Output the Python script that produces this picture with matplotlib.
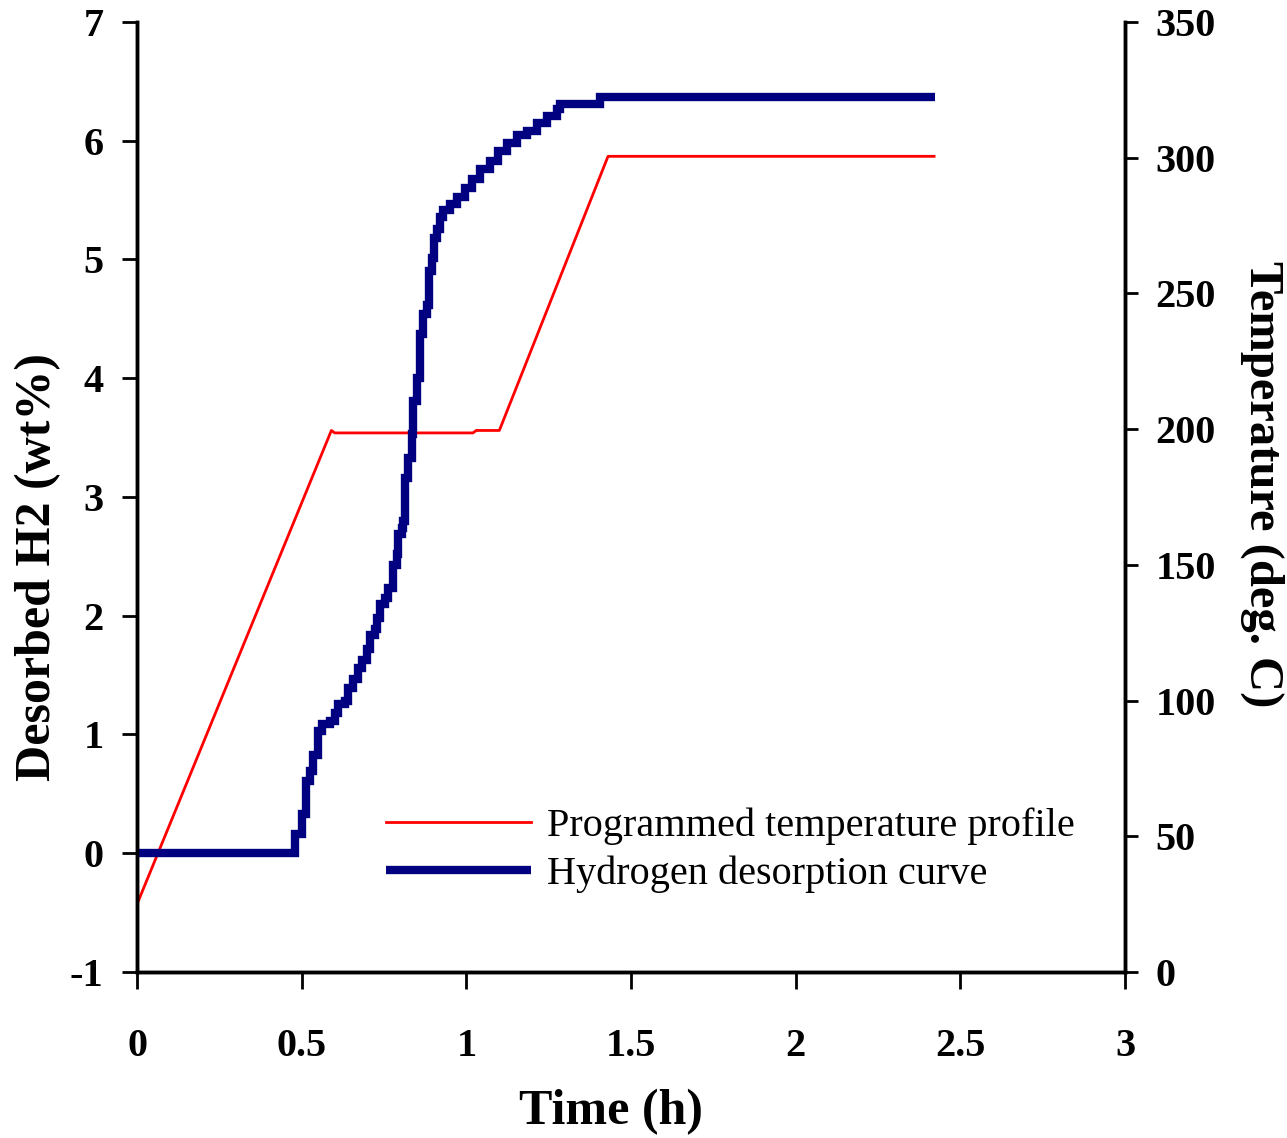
import matplotlib.pyplot as plt

# temperature program (h, deg C)
temp_time = [0.0, 0.59, 0.60, 1.02, 1.03, 1.10, 1.43, 2.42]
temp_vals = [25, 199.5, 198.6, 198.6, 199.5, 199.5, 300.5, 300.5]

# hydrogen desorption (h, wt%)
h2_time = [0.0, 0.465, 0.48, 0.501, 0.513, 0.525, 0.534, 0.55, 0.562, 0.586, 0.601,
           0.61, 0.632, 0.641, 0.656, 0.671, 0.683, 0.698, 0.708, 0.723, 0.729, 0.738,
           0.753, 0.762, 0.777, 0.777, 0.79, 0.793, 0.805, 0.808, 0.814, 0.823, 0.835,
           0.838, 0.85, 0.859, 0.869, 0.88, 0.887, 0.896, 0.902, 0.911, 0.92, 0.929,
           0.95, 0.972, 0.996, 1.017, 1.042, 1.072, 1.096, 1.124, 1.154, 1.184, 1.215,
           1.245, 1.275, 1.285, 1.40, 1.406, 2.423]
h2_vals = [0.0, 0.0, 0.16, 0.33, 0.61, 0.69, 0.83, 1.03, 1.09, 1.11, 1.18,
           1.26, 1.28, 1.39, 1.47, 1.56, 1.63, 1.72, 1.84, 1.89, 1.98, 2.10,
           2.15, 2.23, 2.27, 2.43, 2.52, 2.69, 2.74, 2.80, 3.16, 3.33, 3.53,
           3.81, 4.0, 4.37, 4.54, 4.62, 4.90, 5.01, 5.18, 5.26, 5.36, 5.42,
           5.47, 5.53, 5.60, 5.68, 5.76, 5.83, 5.91, 5.98, 6.05, 6.08, 6.15,
           6.21, 6.27, 6.31, 6.31, 6.37, 6.37]

plt.rcParams['font.family'] = ['Liberation Serif', 'DejaVu Serif']
plt.rcParams['font.weight'] = 'bold'
plt.rcParams['axes.unicode_minus'] = False

fig = plt.figure(figsize=(12.87, 11.38), dpi=100)
ax1 = fig.add_axes([0.1065, 0.1459, 0.7677, 0.8348])
ax2 = ax1.twinx()

l2, = ax2.plot(temp_time, temp_vals, color='#ff0000', lw=2,
               label='Programmed temperature profile')
l1, = ax1.plot(h2_time, h2_vals, color='#000080', lw=6, drawstyle='steps-post',
               solid_capstyle='butt', solid_joinstyle='miter', label='Hydrogen desorption curve')
ax1.set_zorder(ax2.get_zorder() + 1)
ax1.patch.set_visible(False)

ax1.set_xlim(0, 3)
ax1.set_ylim(-1, 7)
ax2.set_ylim(0, 350)
ax1.set_xticks([0, 0.5, 1, 1.5, 2, 2.5, 3])
ax1.set_xticklabels(['0', '0.5', '1', '1.5', '2', '2.5', '3'])
ax1.set_yticks(range(-1, 8))
ax2.set_yticks(range(0, 351, 50))

for ax in (ax1, ax2):
    ax.spines['top'].set_visible(False)
    for s in ax.spines.values():
        s.set_linewidth(2.5)
ax1.tick_params(axis='x', direction='out', length=12, width=2, pad=28, labelsize=29)
ax1.tick_params(axis='y', direction='out', length=11, width=2, pad=13, labelsize=29)
ax2.tick_params(axis='y', direction='out', length=9, width=2, pad=13, labelsize=29)

ax1.set_xlabel('Time (h)', fontsize=36, fontweight='bold', va='center')
ax1.xaxis.set_label_coords(0.48, -0.147)
ax1.set_ylabel('Desorbed H2 (wt%)', fontsize=36, fontweight='bold', va='center')
ax1.yaxis.set_label_coords(-0.100, 0.426)
ax2.set_ylabel('Temperature (deg. C)', fontsize=35, fontweight='bold', rotation=270, va='center')
ax2.yaxis.set_label_coords(1.139, 0.513)

ax1.legend([l2, l1], [l2.get_label(), l1.get_label()], loc='upper left',
           bbox_to_anchor=(0.252, 0.173), frameon=False, borderpad=0, borderaxespad=0,
           handlelength=3.6, handletextpad=0.4, labelspacing=0.25,
           prop={'family': 'Liberation Serif', 'weight': 'normal', 'size': 29})

fig.savefig('out.png', dpi=100)
